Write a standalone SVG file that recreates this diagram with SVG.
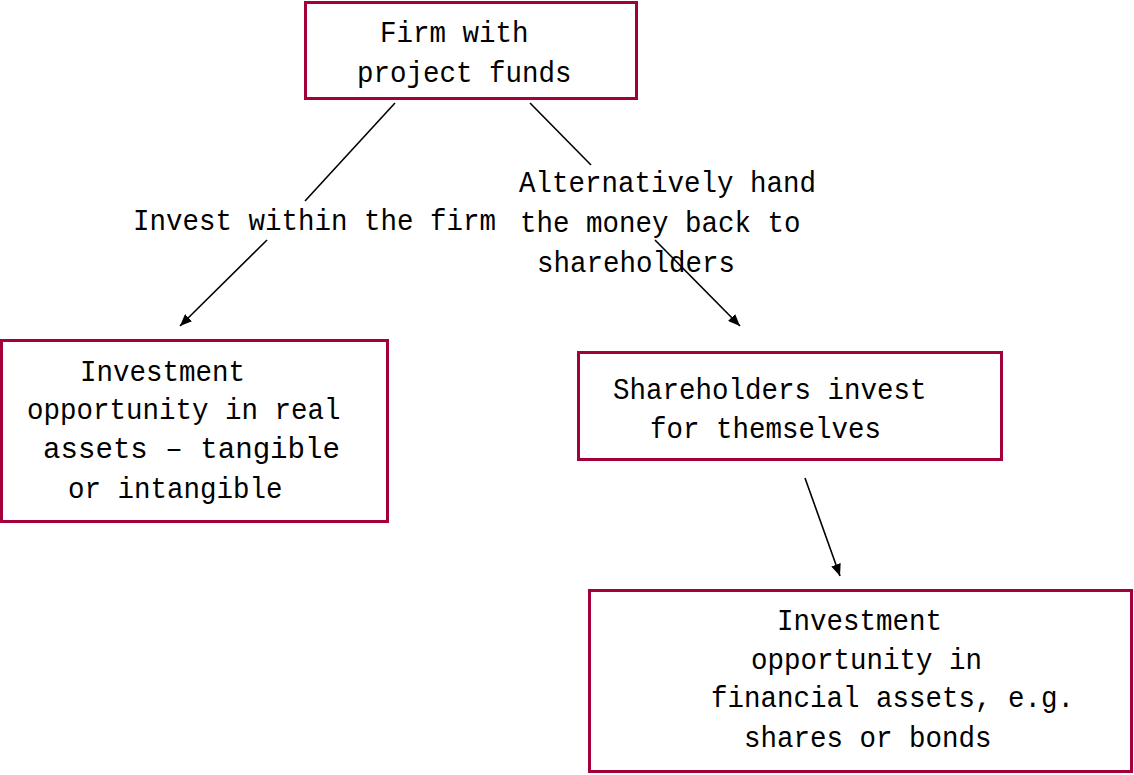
<svg xmlns="http://www.w3.org/2000/svg" width="1134" height="775" viewBox="0 0 1134 775">
<style>
.box{fill:#fff;stroke:#A3003C;stroke-width:3}
.t{font-family:"Liberation Mono","DejaVu Sans Mono",monospace;font-size:30px;fill:#000}
.c{stroke:#000;stroke-width:1.6;fill:none}
</style>
<defs>
<marker id="ah" viewBox="0 0 12 10" refX="12" refY="5" markerWidth="12" markerHeight="10" markerUnits="userSpaceOnUse" orient="auto">
<path d="M0,0 L12,5 L0,10 Z" fill="#000"/>
</marker>
</defs>
<rect width="1134" height="775" fill="#fff"/>
<g id="connectors">
<line class="c" x1="395" y1="103" x2="305" y2="201"/>
<line class="c" x1="267" y1="240" x2="180" y2="326" marker-end="url(#ah)"/>
<line class="c" x1="530" y1="103" x2="591" y2="165"/>
<line class="c" x1="655" y1="240" x2="740" y2="326" marker-end="url(#ah)"/>
<line class="c" x1="805" y1="478" x2="840" y2="576" marker-end="url(#ah)"/>
</g>
<g id="labels">
<text class="t" x="133" y="230" textLength="363" lengthAdjust="spacingAndGlyphs">Invest within the firm</text>
<text class="t" x="519" y="192" textLength="297" lengthAdjust="spacingAndGlyphs">Alternatively hand</text>
<text class="t" x="520" y="232" textLength="280.5" lengthAdjust="spacingAndGlyphs">the money back to</text>
<text class="t" x="537" y="272" textLength="198" lengthAdjust="spacingAndGlyphs">shareholders</text>
</g>
<g id="firm">
<rect class="box" x="305.5" y="2.5" width="331" height="96"/>
<text class="t" x="380" y="42" textLength="148.5" lengthAdjust="spacingAndGlyphs">Firm with</text>
<text class="t" x="357" y="82" textLength="214.5" lengthAdjust="spacingAndGlyphs">project funds</text>
</g>
<g id="real">
<rect class="box" x="1.5" y="340.5" width="386" height="181"/>
<text class="t" x="80" y="381" textLength="165" lengthAdjust="spacingAndGlyphs">Investment</text>
<text class="t" x="27" y="419" textLength="313.5" lengthAdjust="spacingAndGlyphs">opportunity in real</text>
<text class="t" x="43" y="458" textLength="297" lengthAdjust="spacingAndGlyphs">assets – tangible</text>
<text class="t" x="68" y="498" textLength="214.5" lengthAdjust="spacingAndGlyphs">or intangible</text>
</g>
<g id="shareholders">
<rect class="box" x="578.5" y="352.5" width="423" height="107"/>
<text class="t" x="613" y="399" textLength="313.5" lengthAdjust="spacingAndGlyphs">Shareholders invest</text>
<text class="t" x="650" y="438" textLength="231" lengthAdjust="spacingAndGlyphs">for themselves</text>
</g>
<g id="financial">
<rect class="box" x="589.5" y="590.5" width="542" height="181"/>
<text class="t" x="777" y="630" textLength="165" lengthAdjust="spacingAndGlyphs">Investment</text>
<text class="t" x="751" y="669" textLength="231" lengthAdjust="spacingAndGlyphs">opportunity in</text>
<text class="t" x="711" y="707" textLength="363" lengthAdjust="spacingAndGlyphs">financial assets, e.g.</text>
<text class="t" x="744" y="747" textLength="247.5" lengthAdjust="spacingAndGlyphs">shares or bonds</text>
</g>
</svg>
